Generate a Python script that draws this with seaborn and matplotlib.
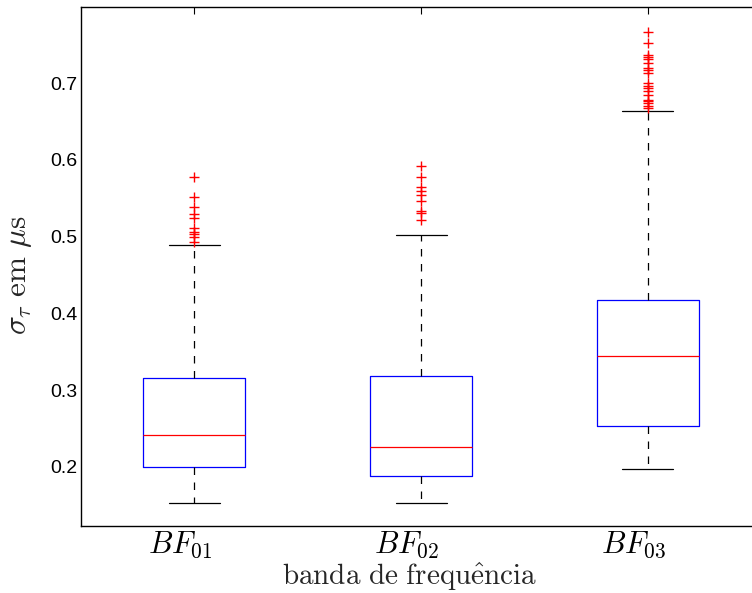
import numpy as np
import pandas as pd
import matplotlib
matplotlib.use("Agg")
import matplotlib.pyplot as plt
import matplotlib.transforms as mtransforms
import seaborn as sns

# ---- data ----
categories = ["BF01", "BF02", "BF03"]
tick_labels = [r"$BF_{01}$", r"$BF_{02}$", r"$BF_{03}$"]
whisker_low = [0.153, 0.153, 0.197]
quartile1 = [0.200, 0.188, 0.253]
median = [0.242, 0.226, 0.345]
quartile3 = [0.316, 0.318, 0.417]
whisker_high = [0.489, 0.502, 0.663]
outliers_bf01 = [0.577, 0.552, 0.538, 0.530, 0.524, 0.511, 0.506, 0.503, 0.499, 0.493]
outliers_bf02 = [0.592, 0.577, 0.564, 0.559, 0.554, 0.546, 0.533, 0.531, 0.522]
outliers_bf03 = [0.767, 0.752, 0.737, 0.734, 0.731, 0.726, 0.719, 0.717, 0.713,
                 0.700, 0.696, 0.693, 0.689, 0.685, 0.678, 0.676, 0.674, 0.670, 0.667]
y_ticks = [0.2, 0.3, 0.4, 0.5, 0.6, 0.7]
y_tick_labels = ["0.2", "0.3", "0.4", "0.5", "0.6", "0.7"]

# five-number summaries: with 5 sorted points, the 25/50/75 percentiles fall
# exactly on points 2/3/4 and whis=(0, 100) puts the whiskers at min/max
rows = []
for i, c in enumerate(categories):
    for v in (whisker_low[i], quartile1[i], median[i], quartile3[i], whisker_high[i]):
        rows.append({"banda": c, "valor": v})
box_df = pd.DataFrame(rows)

out_rows = []
for c, vals in zip(categories, [outliers_bf01, outliers_bf02, outliers_bf03]):
    for v in vals:
        out_rows.append({"banda": c, "valor": v})
out_df = pd.DataFrame(out_rows)

sns.set_style("white")
plt.rcParams["mathtext.fontset"] = "cm"
plt.rcParams["font.family"] = ["Liberation Sans", "DejaVu Sans"]

fig = plt.figure(figsize=(7.52, 5.93), dpi=100)
ax = fig.add_axes([81 / 752, 1 - 526 / 593, (761 - 81) / 752, (526 - 7) / 593])

sns.boxplot(data=box_df, x="banda", y="valor", order=categories, ax=ax,
            whis=(0, 100), width=0.45, fill=False, linewidth=0.9,
            boxprops={"color": "blue"},
            medianprops={"color": "red"},
            whiskerprops={"color": "black", "linestyle": (0, (6, 6))},
            capprops={"color": "black"},
            showfliers=False)

sns.stripplot(data=out_df, x="banda", y="valor", order=categories, ax=ax,
              jitter=False, marker="+", color="red", size=7, linewidth=1.0)

ax.set_xlim(-0.5, 2.5)
ax.set_ylim(0.123, 0.799)
ax.set_yticks(y_ticks)
ax.set_yticklabels(y_tick_labels, fontsize=14)
ax.set_xticks([0, 1, 2])
ax.set_xticklabels(tick_labels, fontsize=22)
ax.tick_params(direction="in", length=5, width=0.8, top=True, right=True,
               colors="black")
ax.tick_params(axis="y", pad=2.5)
ax.tick_params(axis="x", pad=2.5)
shift = mtransforms.ScaledTranslation(-14 / 100, 0, fig.dpi_scale_trans)
for lbl in ax.get_xticklabels():
    lbl.set_transform(lbl.get_transform() + shift)
for s in ax.spines.values():
    s.set_visible(True)
    s.set_color("black")
    s.set_linewidth(1.0)

ax.set_xlabel(r"$\mathrm{banda\ de\ frequ\hat{e}ncia}$", fontsize=21)
ax.xaxis.set_label_coords((410 - 81) / 680, (526 - 561) / 519)
ax.set_ylabel(r"$\sigma_\tau\ \mathrm{em}\ \mu\mathrm{s}$", fontsize=22.5)
ax.yaxis.set_label_coords((34 - 81) / 680, (526 - 275) / 519)

fig.savefig("out.png", dpi=100)
